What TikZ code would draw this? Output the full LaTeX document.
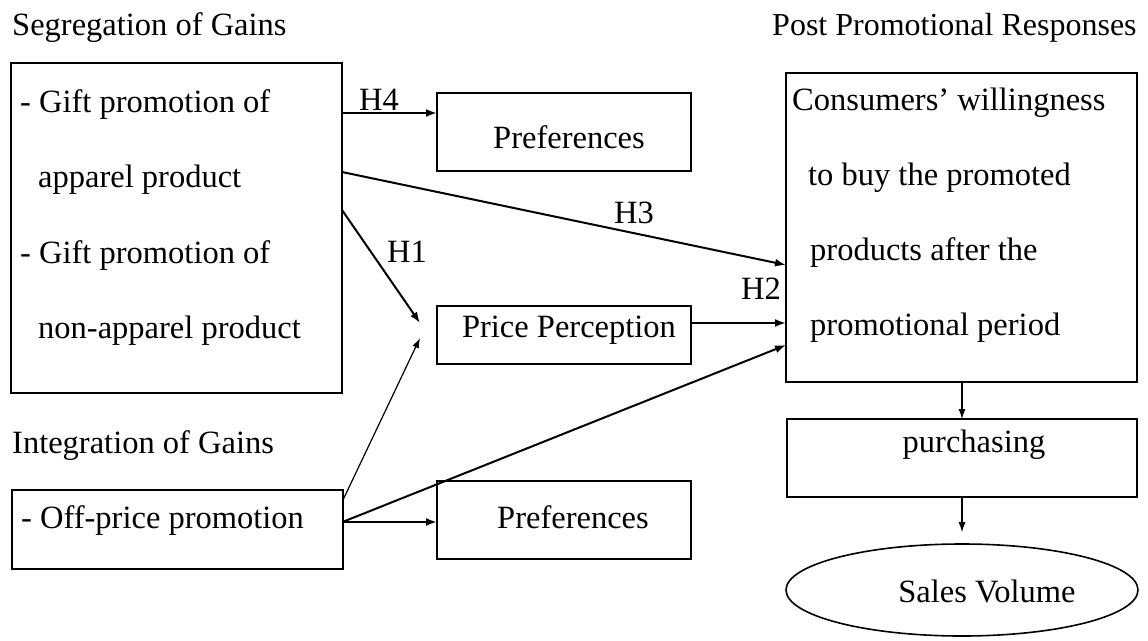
\documentclass[tikz,border=0pt]{standalone}
\usepackage{fontspec}
\setmainfont{Liberation Serif}
\usetikzlibrary{arrows.meta,calc,shapes.geometric}
\begin{document}
\begin{tikzpicture}[x=1pt,y=-1pt,
  box/.style={draw,line width=2pt,inner sep=0pt,outer sep=0pt,rectangle},
  txt/.style={anchor=base west,inner sep=0pt,font=\fontsize{32.5}{38}\selectfont},
  ctxt/.style={anchor=base,inner sep=0pt,font=\fontsize{32.5}{38}\selectfont},
  conn/.style={line width=2pt,-{Latex[length=11pt,width=8pt]}},
  thin/.style={line width=1.2pt,-{Latex[length=10pt,width=7pt]}}]
\useasboundingbox (0,0) rectangle (1148,640);
% titles
\node[txt] (tseg) at (12,35) {Segregation of Gains};
\node[txt,font=\fontsize{32}{38}\selectfont] (tpost) at (772,35) {Post Promotional Responses};
\node[txt] (tint) at (12,453) {Integration of Gains};
% boxes
\node[box,minimum width=331pt,minimum height=330pt] (A) at (176.5,228) {};
\node[box,minimum width=254pt,minimum height=78pt] (P1) at (564,132) {};
\node[box,minimum width=254pt,minimum height=58pt] (PP) at (564,335) {};
\node[box,minimum width=351pt,minimum height=309pt] (C) at (961.5,227.5) {};
\node[box,minimum width=350pt,minimum height=78pt] (PU) at (962,458) {};
\node[draw,line width=1.6pt,ellipse,inner sep=0pt,minimum width=352pt,minimum height=92pt] (S) at (962,590) {};
\node[box,minimum width=331pt,minimum height=79pt] (O) at (177,529.5) {};
\node[box,minimum width=254pt,minimum height=78pt] (P2) at (564,520) {};
% texts in boxes
\node[txt] (a1) at (20,112) {- Gift promotion of};
\node[txt] (a2) at (38,187) {apparel product};
\node[txt] (a3) at (20,263) {- Gift promotion of};
\node[txt] (a4) at (38,338) {non-apparel product};
\node[ctxt] (p1t) at (569,148) {Preferences};
\node[ctxt] (ppt) at (569,337) {Price Perception};
\node[ctxt] (p2t) at (573,528) {Preferences};
\node[txt] (c1) at (792,110) {Consumers' willingness};
\node[txt] (c2) at (808,185) {to buy the promoted};
\node[txt] (c3) at (810,260) {products after the};
\node[txt] (c4) at (810,335) {promotional period};
\node[ctxt] (put) at (974,452) {purchasing};
\node[ctxt] (st) at (987,602) {Sales Volume};
\node[txt] (o1) at (21,528) {- Off-price promotion};
% labels
\node[ctxt] (h4) at (379,110) {H4};
\node[ctxt] (h3) at (634,223) {H3};
\node[ctxt] (h1) at (407,262) {H1};
\node[ctxt] (h2) at (761,299) {H2};
% edge coordinates
\coordinate (sH4) at ($(A.north east)+(0,50)$);
\coordinate (sH3) at ($(A.north east)+(0,109)$);
\coordinate (sH1) at ($(A.north east)+(0,147)$);
\coordinate (eH1) at (420,323);
\coordinate (eT) at (420,338);
\coordinate (sT) at ($(O.north east)+(0,11)$);
\coordinate (sO) at ($(O.north east)+(0,32)$);
\coordinate (eH3) at ($(C.north west)+(0,192)$);
\coordinate (eH2) at ($(C.north west)+(0,250)$);
\coordinate (eO) at ($(C.north west)+(0,272)$);
\coordinate (sPP) at ($(PP.north east)+(0,17)$);
% connectors
\draw[conn] (sH4) -- (P1.west |- sH4);
\draw[conn] (sH3) -- (eH3);
\draw[conn] (sH1) -- (eH1);
\draw[thin] (sT) -- (eT);
\draw[conn] (sPP) -- (eH2);
\draw[conn] (sO) -- (eO);
\draw[conn] (sO) -- (P2.west |- sO);
\draw[thin] (C.south -| PU.north) -- (PU.north);
\draw[thin] (PU.south) -- ($(S.north)+(0,-11)$);
\end{tikzpicture}
\end{document}
